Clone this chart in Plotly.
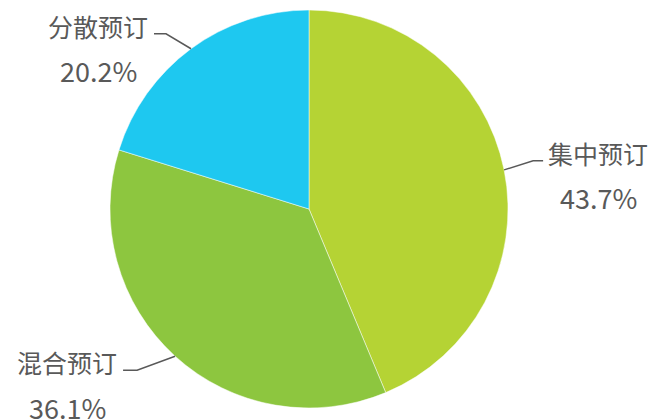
import math
import plotly.graph_objects as go

labels = ["集中预订", "混合预订", "分散预订"]
values = [43.7, 36.1, 20.2]
colors = ["#b5d334", "#8dc63f", "#1ec8f0"]

W, H = 652, 420
CX, CY, R = 309, 209, 199
FS = 25
FS_PCT = 27
TXT = "#595959"
# leader-line elbow offsets (px) from the slice edge point, and horizontal segment length
ELBOW = [(29, -9), (-38, 14), (-25, -15)]
HLEN = [10, 14, 12]

fig = go.Figure(go.Pie(
    labels=labels, values=values, sort=False, direction="clockwise", rotation=0,
    marker=dict(colors=colors, line=dict(color="white", width=0.5)),
    textinfo="none", hoverinfo="label+percent", showlegend=False,
    domain=dict(x=[(CX - R) / W, (CX + R) / W], y=[1 - (CY + R) / H, 1 - (CY - R) / H]),
))

def px(x):
    return x / W

def py(y):
    return 1 - y / H

total = sum(values)
cum = 0.0
shapes = []
annotations = []
for i, (lab, v) in enumerate(zip(labels, values)):
    mid = (cum + v / 2) / total * 2 * math.pi
    cum += v
    sx, cy_ = math.sin(mid), math.cos(mid)
    x0, y0 = CX + R * sx, CY - R * cy_
    x1, y1 = x0 + ELBOW[i][0], y0 + ELBOW[i][1]
    side = 1 if sx >= 0 else -1
    x2 = x1 + side * HLEN[i]
    shapes.append(dict(type="path", xref="paper", yref="paper",
                       path=f"M {px(x0)},{py(y0)} L {px(x1)},{py(y1)} L {px(x2)},{py(y1)}",
                       line=dict(color=TXT, width=1.5)))
    name_w = len(lab) * FS
    if side > 0:
        nx_center = x2 + 5 + name_w / 2
    else:
        nx_center = x2 - 6 - name_w / 2
    annotations.append(dict(x=px(nx_center), y=py(y1 - 8), xref="paper", yref="paper",
                            text=lab, showarrow=False, xanchor="center", yanchor="middle",
                            font=dict(size=FS, color=TXT)))
    annotations.append(dict(x=px(nx_center + 0.5), y=py(y1 + 37), xref="paper", yref="paper",
                            text=f"{v:.1f}%", showarrow=False, xanchor="center", yanchor="middle",
                            font=dict(size=FS_PCT, color=TXT)))

fig.update_layout(
    width=W, height=H, margin=dict(l=0, r=0, t=0, b=0),
    paper_bgcolor="white", plot_bgcolor="white",
    font=dict(family="Microsoft YaHei, Noto Sans CJK SC, Noto Sans, sans-serif", color=TXT),
    shapes=shapes, annotations=annotations,
)

fig.write_html("out.html")
